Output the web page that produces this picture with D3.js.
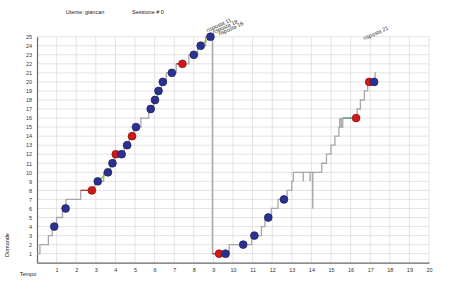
<!DOCTYPE html>
<html>
<head>
<meta charset="utf-8">
<script src="https://cdn.jsdelivr.net/npm/d3@7"></script>
<style>
  body { margin: 0; background: #fff; }
  text { font-family: "Liberation Sans", Arial, sans-serif; }
</style>
</head>
<body>
<script>
// step line of answers over time (t, count), drawn as step-after
const stepLine = [
    [0, 1], [0.15, 2], [0.58, 3], [0.78, 4], [1.0, 5], [1.3, 6], [1.48, 7],
    [2.23, 8], [2.95, 9], [3.4, 10], [3.75, 11], [3.95, 12], [4.45, 13],
    [4.7, 14], [4.95, 15], [5.3, 16], [5.7, 17], [5.95, 18], [6.15, 19],
    [6.35, 20], [6.6, 21], [7.1, 22], [7.75, 23], [8.2, 24], [8.6, 25],
    [8.95, 25], [8.95, 1], [9.81, 2], [10.95, 3], [11.45, 4], [11.63, 5],
    [11.95, 6], [12.3, 7], [12.76, 8], [13.0, 9], [13.08, 10], [14.53, 11],
    [14.77, 12], [15.0, 13], [15.2, 14], [15.4, 15], [15.6, 16], [16.34, 17],
    [16.5, 18], [16.7, 19], [16.87, 20], [17.25, 21], [17.3, 21]
];
// short drops below the line: [t, from, to]
const spikes = [[13.58, 10, 9], [13.93, 10, 9], [14.07, 10, 6], [15.45, 15, 16], [15.52, 15, 16]];
// coloured segments leading to a dot: [t0, v0, t1, v1, colour]
const segments = [
    [2.23, 8, 2.8, 8, "#c0392b"],
    [3.1, 9, 3.63, 10, "#9bc23c"],
    [7.1, 22, 7.4, 22, "#c0392b"],
    [8.37, 24, 8.83, 25, "#9bc23c"],
    [8.95, 1, 9.29, 1, "#c0392b"],
    [15.6, 16, 16.28, 16, "#4aa89a"]
];
// answer dots: [t, count, correct]
const dots = [
    [0.88, 4, 1], [1.46, 6, 1], [2.8, 8, 0], [3.1, 9, 1], [3.62, 10, 1],
    [3.85, 11, 1], [4.02, 12, 0], [4.32, 12, 1], [4.6, 13, 1], [4.85, 14, 0],
    [5.05, 15, 1], [5.8, 17, 1], [6.02, 18, 1], [6.2, 19, 1], [6.42, 20, 1],
    [6.88, 21, 1], [7.42, 22, 0], [8.0, 23, 1], [8.35, 24, 1], [8.85, 25, 1],
    [9.29, 1, 0], [9.62, 1, 1], [10.52, 2, 1], [11.09, 3, 1], [11.8, 5, 1],
    [12.6, 7, 1], [16.28, 16, 0], [16.95, 20, 0], [17.2, 20, 1]
];
// rotated labels above the chart: [t, count, text]
const notes = [
    [8.7, 25.5, "risposta 11"],
    [9.0, 25.3, "risposta 18"],
    [9.3, 25.1, "risposta 16"],
    [16.7, 24.6, "risposta 21"]
];
const xTicks = d3.range(1, 21);
const yTicks = d3.range(1, 26);

const width = 466, height = 299;
const svg = d3.select("body").append("svg")
    .attr("width", width)
    .attr("height", height);

const x = d3.scaleLinear().domain([0, 20]).range([37, 429]);
const y = d3.scaleLinear().domain([0, 25]).range([262.7, 36.7]);

// grid
svg.append("g").selectAll("line").data(xTicks).join("line")
    .attr("x1", d => x(d)).attr("x2", d => x(d))
    .attr("y1", y(25)).attr("y2", y(0))
    .attr("stroke", "#dcdcdc").attr("stroke-width", 0.8);
svg.append("g").selectAll("line").data(yTicks).join("line")
    .attr("x1", x(0)).attr("x2", x(20))
    .attr("y1", d => y(d)).attr("y2", d => y(d))
    .attr("stroke", "#dcdcdc").attr("stroke-width", 0.8);

// axes
const xAxis = svg.append("g")
    .attr("transform", `translate(0,${y(0)})`)
    .call(d3.axisBottom(x).tickValues(xTicks).tickSize(0).tickPadding(5));
const yAxis = svg.append("g")
    .attr("transform", `translate(${x(0)},0)`)
    .call(d3.axisLeft(y).tickValues(yTicks).tickSize(0).tickPadding(5));
[xAxis, yAxis].forEach(a => {
    a.select(".domain").attr("stroke", "#666").attr("stroke-width", 1.2);
    a.selectAll("text").attr("font-size", "5.5px").attr("fill", "#333")
        .attr("font-family", "Liberation Sans, Arial, sans-serif");
});

// step line
svg.append("path")
    .datum(stepLine)
    .attr("d", d3.line().x(d => x(d[0])).y(d => y(d[1])).curve(d3.curveStepAfter))
    .attr("fill", "none").attr("stroke", "#a8a8a8").attr("stroke-width", 1.3);

svg.append("g").selectAll("line").data(spikes).join("line")
    .attr("x1", d => x(d[0])).attr("x2", d => x(d[0]))
    .attr("y1", d => y(d[1])).attr("y2", d => y(d[2]))
    .attr("stroke", "#a0a0a0").attr("stroke-width", 1.3);

svg.append("g").selectAll("line").data(segments).join("line")
    .attr("x1", d => x(d[0])).attr("y1", d => y(d[1]))
    .attr("x2", d => x(d[2])).attr("y2", d => y(d[3]))
    .attr("stroke", d => d[4]).attr("stroke-width", 1.3);

// dots
svg.append("g").selectAll("circle").data(dots).join("circle")
    .attr("cx", d => x(d[0])).attr("cy", d => y(d[1]))
    .attr("r", 3.9)
    .attr("fill", d => d[2] ? "#2b3190" : "#d01818")
    .attr("stroke", d => d[2] ? "#1a1d5c" : "#8a1010")
    .attr("stroke-width", 0.7);

// notes
svg.append("g").selectAll("text").data(notes).join("text")
    .attr("transform", d => `translate(${x(d[0])},${y(d[1])}) rotate(-24)`)
    .attr("font-size", "5.5px").attr("fill", "#333")
    .text(d => d[2]);

// titles
svg.append("text").attr("x", 85).attr("y", 14).attr("text-anchor", "middle")
    .attr("font-size", "5.5px").attr("fill", "#222").text("Utente: giancan");
svg.append("text").attr("x", 148).attr("y", 14).attr("text-anchor", "middle")
    .attr("font-size", "5.5px").attr("fill", "#222").text("Sessione # 0");
svg.append("text").attr("transform", "translate(9,245) rotate(-90)")
    .attr("text-anchor", "middle").attr("font-size", "5.5px").attr("fill", "#222")
    .text("Domande");
svg.append("text").attr("x", 28).attr("y", 276).attr("text-anchor", "middle")
    .attr("font-size", "5.5px").attr("fill", "#222").text("Tempo");
</script>
</body>
</html>
